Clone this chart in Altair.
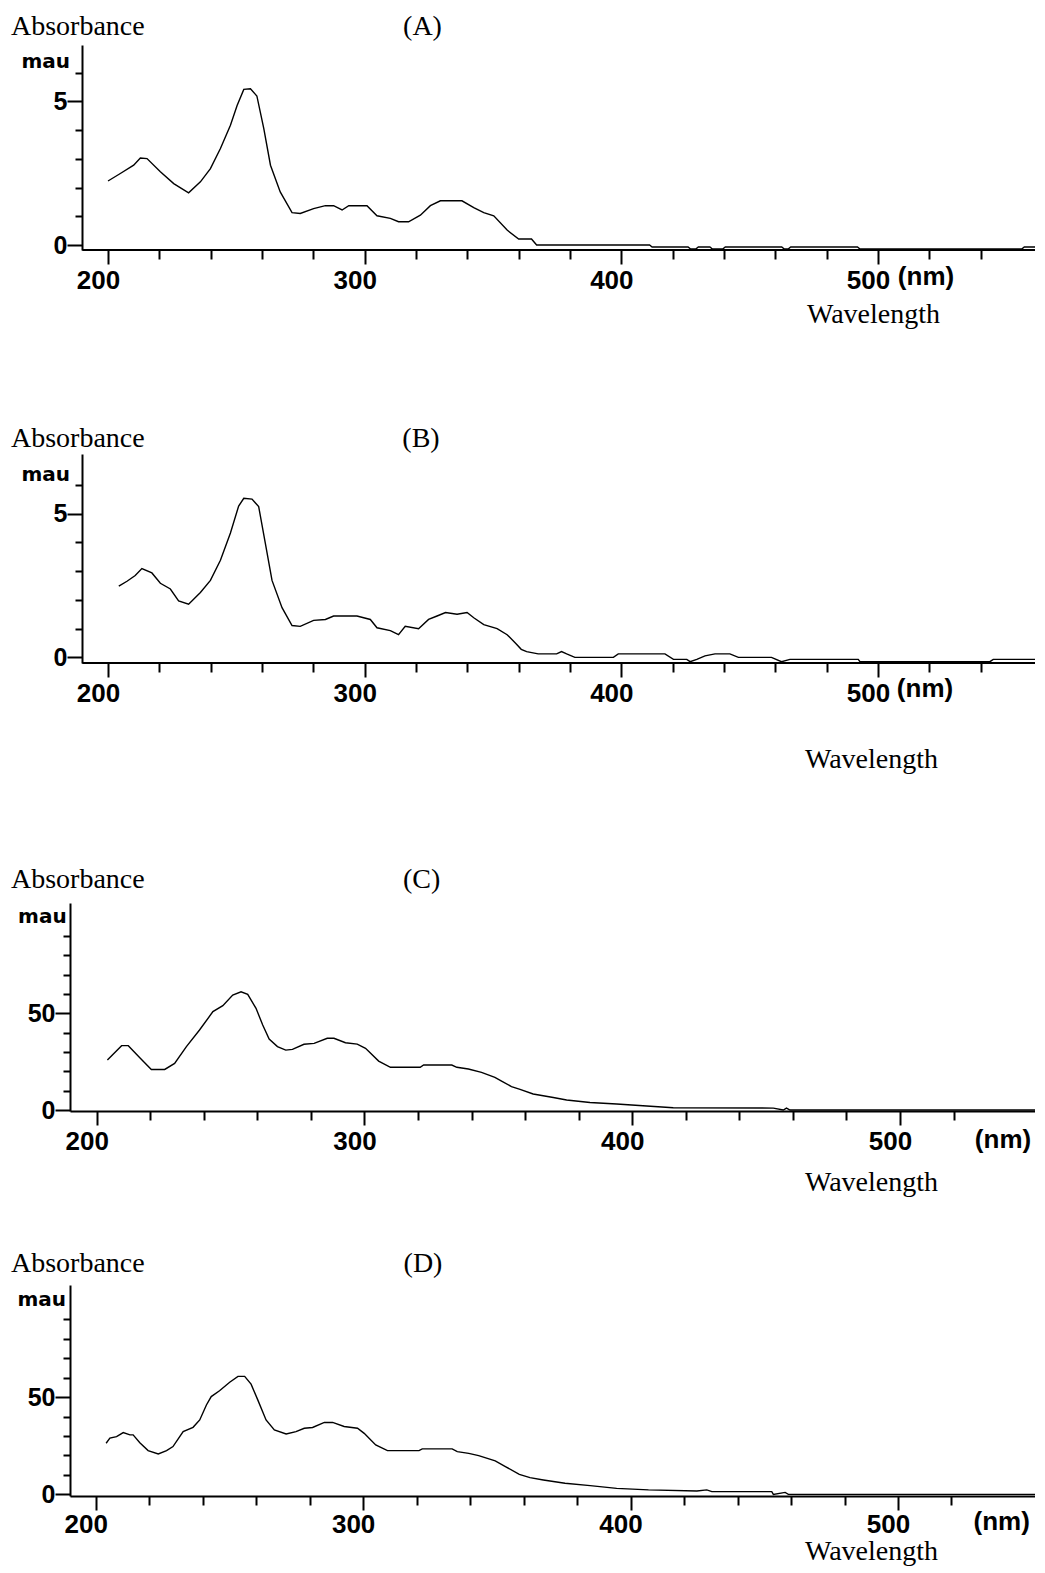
import altair as alt
import pandas as pd

# ---------------- data ----------------
WL_A = [200, 204.8, 210, 212.6, 215.2, 220.4, 225.6, 231.4, 236, 239.9, 243.8, 247.7, 250.3, 252.9,
        255.5, 258, 260.7, 263.3, 267.1, 271.7, 274.9, 280.1, 284.7, 287.9, 291.2, 293.8, 300.9,
        304.8, 310, 313.2, 317.1, 321.7, 325.6, 329.5, 337.9, 342.5, 346.4, 350.3, 355.5, 360, 365,
        367, 411, 412, 426, 427, 429, 430, 434.5, 435.5, 439.5, 440.5, 462.5, 463.5, 465, 466, 492,
        493, 556, 557, 564]
ABS_A = [2.23, 2.49, 2.78, 3.03, 3.01, 2.55, 2.14, 1.82, 2.2, 2.66, 3.36, 4.17, 4.86, 5.42,
         5.44, 5.19, 4.05, 2.78, 1.85, 1.13, 1.1, 1.27, 1.37, 1.37, 1.22, 1.37, 1.37,
         1.02, 0.93, 0.81, 0.81, 1.04, 1.37, 1.54, 1.54, 1.30, 1.13, 1.02, 0.52, 0.21, 0.21,
         0.0, 0.0, -0.07, -0.07, -0.14, -0.14, -0.07, -0.07, -0.14, -0.14, -0.07, -0.07, -0.14, -0.14, -0.07, -0.07,
         -0.14, -0.14, -0.07, -0.07]

WL_B = [204.2, 207.4, 210.6, 213.2, 217.1, 220.4, 224.3, 227.5, 231.4, 236, 239.9, 243.8, 247.7, 250.9,
        252.9, 256.1, 258.7, 261.3, 263.9, 267.8, 271.7, 274.9, 280.1, 284.7, 287.9, 297, 302.2, 304.8,
        310, 313.2, 315.8, 321, 324.9, 328.2, 331.5, 336, 339.9, 342.5, 346.4, 351.6, 355.5, 358.7,
        361, 363.1, 367.6, 374.8, 376.7, 378.7, 381.9, 396.9, 398.8, 417, 420.3, 425.5, 426.8, 429.4,
        432.6, 436.5, 442.3, 445.6, 458.5, 462.4, 465.7, 492.3, 493, 543.6, 544.9, 564]
ABS_B = [2.48, 2.65, 2.85, 3.09, 2.94, 2.58, 2.38, 1.97, 1.85, 2.26, 2.68, 3.38, 4.33, 5.27,
         5.54, 5.51, 5.25, 3.97, 2.68, 1.73, 1.11, 1.08, 1.29, 1.32, 1.44, 1.44, 1.32, 1.03,
         0.93, 0.79, 1.08, 1.0, 1.32, 1.44, 1.56, 1.50, 1.56, 1.38, 1.14, 1.0, 0.79, 0.50,
         0.28, 0.2, 0.12, 0.12, 0.2, 0.12, 0.0, 0.0, 0.12, 0.12, -0.07, -0.07, -0.15, -0.07,
         0.05, 0.12, 0.12, 0.0, 0.0, -0.15, -0.07, -0.07, -0.15, -0.15, -0.07, -0.07]

WL_C = [204, 209.3, 211.8, 216.1, 220.4, 225.4, 229.1, 233.5, 238.4, 243.4, 247.1, 250.8, 253.9, 256.4,
        259.5, 262, 264.4, 267.5, 270.6, 273.1, 277.4, 281.2, 286.1, 288.6, 292.9, 297.3, 300.4, 305.3,
        309.7, 320.8, 322.1, 332.6, 334.5, 338.8, 343.7, 348.7, 351.2, 354.9, 358.1, 363, 370.5,
        375.5, 384.2, 394.2, 405.4, 415.3, 452.7, 456.4, 457.6, 458.9, 553]
ABS_C = [25.9, 33.3, 33.3, 27.1, 21.0, 21.0, 24.1, 32.8, 41.4, 50.9, 54.0, 59.5, 61.2, 59.8,
         52.6, 44.0, 36.7, 32.8, 31.0, 31.4, 34.0, 34.5, 37.1, 37.1, 34.8, 34.1, 31.9, 25.3,
         22.1, 22.1, 23.3, 23.3, 22.1, 21.2, 19.5, 16.9, 15.0, 12.1, 10.7, 8.3, 6.5,
         5.2, 3.9, 3.1, 2.1, 1.2, 1.0, 0.0, 1.0, 0.0, 0.0]

WL_D = [203.9, 205.3, 207.8, 210.3, 212.8, 214, 216.5, 219.6, 223.4, 226.5, 228.9, 232.7, 236.4, 238.9,
        241.4, 243.2, 246.3, 250.1, 253.2, 255.7, 258.1, 260.6, 263.7, 266.8, 271.2, 274.9, 278, 281.1,
        285.5, 288.6, 292.9, 297.9, 300.4, 304.7, 309.1, 320.9, 322.1, 333.3, 335.2, 339.5, 343.2,
        349.4, 353.2, 358.4, 362.4, 367.4, 375.5, 384.9, 394.8, 406.7, 424.8, 428.5, 430.4, 452.8,
        453.4, 457.8, 459, 553.8]
ABS_D = [26.3, 28.9, 29.7, 31.8, 30.6, 30.6, 26.6, 22.5, 20.8, 22.5, 24.6, 32.3, 34.5, 38.3,
         46.0, 50.3, 53.3, 57.7, 60.7, 60.7, 56.7, 48.6, 38.3, 33.2, 31.1, 32.3, 34.0, 34.4,
         37.0, 37.0, 34.9, 34.0, 31.4, 25.4, 22.5, 22.5, 23.4, 23.4, 22.0, 21.1, 19.9,
         17.2, 14.3, 10.3, 8.6, 7.4, 5.7, 4.5, 3.1, 2.3, 1.7, 2.3, 1.4, 1.4,
         0.0, 1.0, 0.0, 0.0]

X_TICKS_AB = list(range(200, 541, 20))
X_TICKS_CD = list(range(200, 521, 20))
Y_TICKS_AB = [0, 1, 2, 3, 4, 5, 6]
Y_TICKS_CD = [0, 10, 20, 30, 40, 50, 60, 70, 80, 90]
PANEL_LETTERS = ["(A)", "(B)", "(C)", "(D)"]
Y_TITLE = "Absorbance"
Y_UNIT = "mau"
X_TITLE = "Wavelength"
X_UNIT = "(nm)"

LABEL_FONT = "Liberation Sans, Arial, sans-serif"
SERIF = "Liberation Serif, Times New Roman, serif"
UNIT_FONT = "DejaVu Sans, Verdana, sans-serif"


def text_layer(s, x, y, font, size, weight, align):
    return alt.Chart(pd.DataFrame({"t": [s]})).mark_text(
        font=font, fontSize=size, fontWeight=weight, align=align,
        baseline="alphabetic", color="black"
    ).encode(x=alt.value(x), y=alt.value(y), text="t:N")


def panel(wl, ab, xdom, ydom, xticks, yticks, ymajor, h, letter, yoff, pos, draw_xline, lpad=3):
    df = pd.DataFrame({"wl": wl, "ab": ab})
    x_axis = alt.Axis(
        values=xticks, title=None,
        labelExpr="datum.value % 100 === 0 ? datum.value : ''",
        tickSize={"expr": "datum.value % 100 === 0 ? 14 : 9"},
        labelOffset=-10, labelPadding=lpad, labelFont=LABEL_FONT, labelFontSize=26,
        labelFontWeight="bold", labelColor="black", tickColor="black", tickWidth=2,
        domainColor="black", domainWidth=2, domain=not draw_xline, grid=False,
        labelFlush=False, labelOverlap=False,
    )
    y_axis = alt.Axis(
        values=yticks, title=None,
        labelExpr=f"datum.value === 0 || datum.value === {ymajor} ? datum.value : ''",
        tickSize={"expr": f"datum.value === 0 || datum.value === {ymajor} ? 15 : 7"},
        labelPadding=0, offset=yoff, labelFont=LABEL_FONT, labelFontSize=25,
        labelFontWeight="bold", labelColor="black", tickColor="black", tickWidth=2,
        domainColor="black", domainWidth=2, grid=False, labelFlush=False, labelOverlap=False,
    )
    xs = alt.Scale(domain=xdom, nice=False, zero=False)
    ys = alt.Scale(domain=ydom, nice=False, zero=False)
    line = alt.Chart(df).mark_line(color="black", strokeWidth=1.4).encode(
        x=alt.X("wl:Q", scale=xs, axis=x_axis),
        y=alt.Y("ab:Q", scale=ys, axis=y_axis),
    )
    layers = [line]
    if draw_xline:
        rdf = pd.DataFrame({"x0": [190.0], "x1": [xdom[1]], "y0": [ydom[0]]})
        layers.append(
            alt.Chart(rdf).mark_rule(color="black", strokeWidth=2).encode(
                x=alt.X("x0:Q", scale=xs, axis=x_axis), x2="x1:Q",
                y=alt.Y("y0:Q", scale=ys, axis=y_axis),
            )
        )
    layers += [
        text_layer(Y_TITLE, -59, pos["abs"], SERIF, 28, "normal", "left"),
        text_layer(letter, pos["letter"], pos["abs"], SERIF, 28, "normal", "center"),
        text_layer(Y_UNIT, pos["mau_x"], pos["mau_y"], UNIT_FONT, 20, "bold", "right"),
        text_layer(X_UNIT, pos["nm_x"], pos["nm_y"], LABEL_FONT, 26, "bold", "center"),
        text_layer(X_TITLE, pos["wl_x"], pos["wl_y"], SERIF, 28, "normal", "left"),
    ]
    return alt.layer(*layers).properties(width=972, height=h)


def spacer(h):
    return alt.Chart(pd.DataFrame({"s": [0]})).mark_point(opacity=0).encode(
        x=alt.X("s:Q", axis=None), y=alt.Y("s:Q", axis=None)
    ).properties(width=972, height=h)


pA = panel(WL_A, ABS_A, [185.19, 563.9], [-0.173, 6.965], X_TICKS_AB, Y_TICKS_AB, 5, 205,
           PANEL_LETTERS[0], -12,
           dict(abs=-10, letter=352.5, mau_x=0, mau_y=22.7, nm_x=856, nm_y=239.7, wl_x=737, wl_y=278.4), True)
pB = panel(WL_B, ABS_B, [185.19, 563.9], [-0.196, 7.081], X_TICKS_AB, Y_TICKS_AB, 5, 209,
           PANEL_LETTERS[1], -12,
           dict(abs=-7.3, letter=351, mau_x=0, mau_y=27, nm_x=855, nm_y=242.7, wl_x=735, wl_y=314.4), True)
pC = panel(WL_C, ABS_C, [190.03, 553.02], [-0.5, 107.1], X_TICKS_CD, Y_TICKS_CD, 50, 208,
           PANEL_LETTERS[2], 0,
           dict(abs=-14.6, letter=351.7, mau_x=-3.3, mau_y=20.4, nm_x=933, nm_y=244.7, wl_x=735, wl_y=287.7), False)
pD = panel(WL_D, ABS_D, [190.39, 553.85], [-0.84, 107.7], X_TICKS_CD, Y_TICKS_CD, 50, 211,
           PANEL_LETTERS[3], 0,
           dict(abs=-13.3, letter=353, mau_x=-4, mau_y=21, nm_x=931.7, nm_y=244.7, wl_x=735, wl_y=275), False,
           lpad=1)

chart = alt.vconcat(
    pA, spacer(204), pB, spacer(240), pC, spacer(174), pD, spacing=0, bounds="flush"
).properties(
    padding={"left": 3, "top": 5, "right": -11, "bottom": 1},
    background="white",
).configure_view(stroke="transparent", strokeWidth=0)

chart.save("out.html", embed_options={"renderer": "svg", "actions": False})
